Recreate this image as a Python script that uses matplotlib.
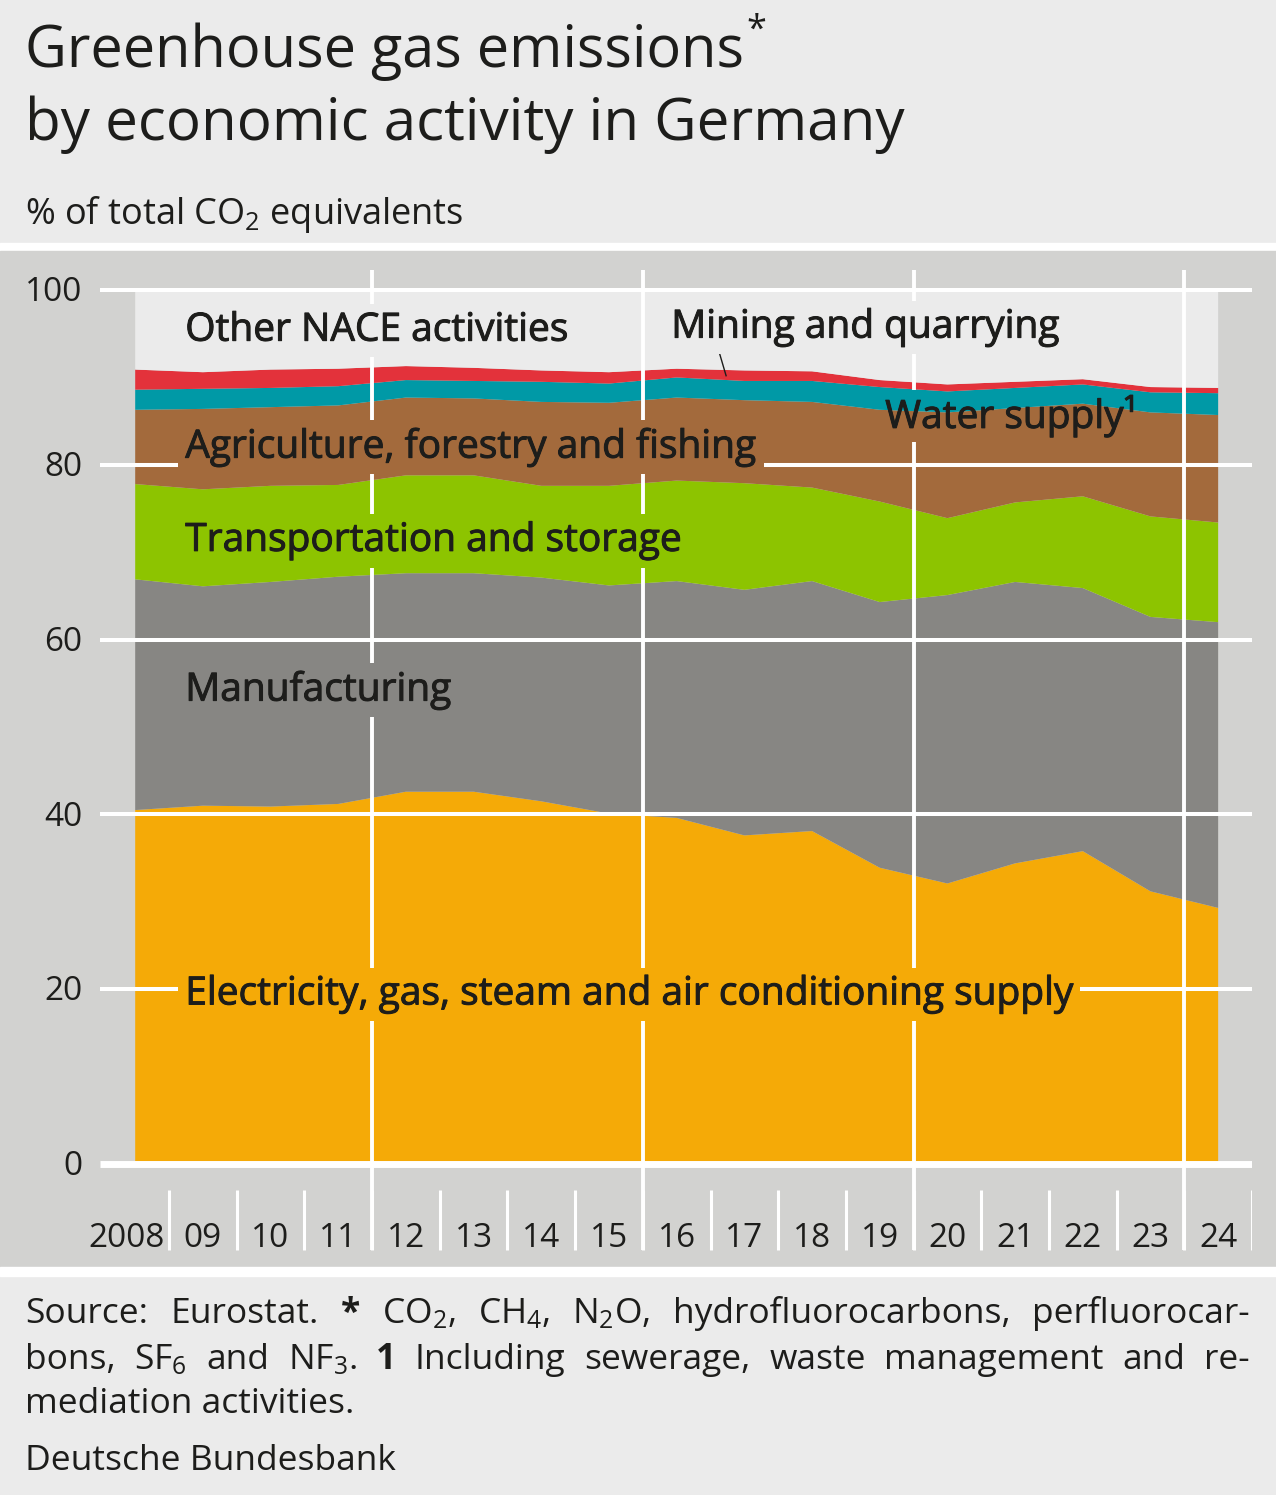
import matplotlib
matplotlib.use("Agg")
import matplotlib.pyplot as plt
import matplotlib.patheffects as pe
from matplotlib.patches import Rectangle

plt.rcParams['font.family'] = ['Open Sans', 'DejaVu Sans']
plt.rcParams['mathtext.fontset'] = 'custom'
plt.rcParams['mathtext.rm'] = 'Open Sans'
plt.rcParams['mathtext.it'] = 'Open Sans:italic'
plt.rcParams['mathtext.bf'] = 'Open Sans:bold'

# shares in % of total CO2 equivalents
years = list(range(2008, 2025))
year_labels = ['2008'] + ['%02d' % (y % 100) for y in years[1:]]
electricity = [40.5, 41.0, 40.9, 41.2, 42.6, 42.6, 41.5, 40.1, 39.6, 37.6, 38.1, 33.9, 32.1, 34.4, 35.8, 31.2, 29.3]
manufacturing = [26.4, 25.1, 25.7, 26.0, 25.0, 25.0, 25.6, 26.1, 27.1, 28.1, 28.6, 30.4, 33.0, 32.2, 30.1, 31.4, 32.7]
transport = [10.9, 11.1, 11.0, 10.5, 11.2, 11.2, 10.5, 11.4, 11.5, 12.2, 10.7, 11.5, 8.8, 9.1, 10.5, 11.5, 11.4]
agriculture = [8.5, 9.2, 9.0, 9.1, 8.9, 8.8, 9.6, 9.5, 9.5, 9.5, 9.8, 10.5, 12.1, 10.8, 10.6, 11.9, 12.3]
water = [2.3, 2.3, 2.2, 2.2, 2.0, 2.0, 2.3, 2.2, 2.3, 2.2, 2.4, 2.6, 2.4, 2.3, 2.2, 2.3, 2.5]
mining = [2.3, 1.9, 2.1, 2.0, 1.6, 1.5, 1.3, 1.3, 1.0, 1.2, 1.1, 0.8, 0.8, 0.7, 0.6, 0.6, 0.6]
other = [100 - sum(v) for v in zip(electricity, manufacturing, transport, agriculture, water, mining)]
yticks = [0, 20, 40, 60, 80, 100]

c_orange = '#f5aa07'
c_gray = '#878683'
c_green = '#8dc400'
c_brown = '#a36a3c'
c_teal = '#0099a6'
c_red = '#e3323b'
c_light = '#ebebeb'
c_bg = '#d2d2d0'
c_text = '#1d1d1b'

W, H = 1276, 1495
fig = plt.figure(figsize=(W / 100, H / 100), dpi=100, facecolor=c_light)
renderer = fig.canvas.get_renderer()

def fy(px):
    return 1 - px / H

# background bands
fig.patches.append(Rectangle((0, fy(251)), 1, (251 - 243) / H, transform=fig.transFigure, color='white', zorder=-1))
fig.patches.append(Rectangle((0, fy(1267)), 1, (1267 - 251) / H, transform=fig.transFigure, color=c_bg, zorder=-1))
fig.patches.append(Rectangle((0, fy(1276)), 1, (1276 - 1267) / H, transform=fig.transFigure, color='white', zorder=-1))

ax = fig.add_axes([100 / W, fy(1251.4), 1152 / W, (1251.4 - 268.2) / H])
ax.set_zorder(2)
ax.set_facecolor('none')
for s in ax.spines.values():
    s.set_visible(False)
ax.set_xticks([])
ax.set_yticks([])
ax.set_xlim(2007.48, 2024.5)
ax.set_ylim(-10, 102.5)

colors = [c_orange, c_gray, c_green, c_brown, c_teal, c_red, c_light]
ax.stackplot(years, electricity, manufacturing, transport, agriculture, water, mining, other,
             colors=colors, linewidth=0, zorder=1)

# grid
ax.hlines([20, 40, 60, 80, 100], 2007.48, 2024.5, color='white', lw=2.9, zorder=3)
ax.hlines(0, 2007.48, 2024.5, color='white', lw=5, zorder=3)
ax.vlines([2011.5, 2015.5, 2023.5], -9.84, 102.3, color='white', lw=2.8, zorder=3)
ax.vlines(2019.5, -9.84, 82.6, color='white', lw=2.8, zorder=3)
ax.vlines(2019.5, 88.6, 102.3, color='white', lw=2.8, zorder=3)
ax.vlines([y + 0.5 for y in years], -9.84, -2.97, color='white', lw=2.2, zorder=3)

for v in yticks:
    ax.text(2007.22, v - 0.3, str(v), ha='right', va='center', fontsize=24, color=c_text, clip_on=False)
for y, lab in zip(years, year_labels):
    if y == 2008:
        ax.text(2008.44, -8.5, lab, ha='right', va='center', fontsize=24, color=c_text)
    else:
        ax.text(y, -8.5, lab, ha='center', va='center', fontsize=24, color=c_text)

heavier = [pe.withStroke(linewidth=0.7, foreground=c_text)]

def label(x, y, s, fc):
    box = None if fc is None else dict(boxstyle='square,pad=0.2', fc=fc, ec='none')
    ax.text(x, y - 0.3, s, ha='left', va='center', fontsize=28, color=c_text,
            bbox=box, zorder=5, path_effects=heavier)

label(2008.74, 95.65, 'Other NACE activities', c_light)
label(2015.92, 96.0, 'Mining and quarrying', c_light)
label(2019.08, 85.9, 'Water supply\u00b9', None)
label(2008.74, 82.3, 'Agriculture, forestry and fishing', c_brown)
label(2008.74, 71.6, 'Transportation and storage', c_green)
label(2008.74, 54.5, 'Manufacturing', c_gray)
label(2008.74, 19.7, 'Electricity, gas, steam and air conditioning supply', c_orange)
ax.plot([2016.62, 2016.73], [93.1, 90.2], color=c_text, lw=1, zorder=4)

# titles
t1 = fig.text(25 / W, fy(67), 'Greenhouse gas emissions', fontsize=41.5, color=c_text, va='baseline')
x_star = t1.get_window_extent(renderer).x1 + 2
fig.text(x_star / W, fy(40), '*', fontsize=26, color=c_text, va='baseline')
fig.text(25 / W, fy(140), 'by economic activity in Germany', fontsize=42, color=c_text, va='baseline')
fig.text(25 / W, fy(224), '% of total CO$_\\mathrm{2}$ equivalents', fontsize=26, color=c_text, va='baseline')

# footnote, justified lines
FN = 25.5

def justify(words, y_px, x0=25, x1=1250):
    texts = [fig.text(0, fy(y_px), w, fontsize=FN, color=c_text, va='baseline', fontweight=wt)
             for w, wt in words]
    widths = [t.get_window_extent(renderer).width for t in texts]
    gap = (x1 - x0 - sum(widths)) / (len(texts) - 1)
    x = x0
    for t, w in zip(texts, widths):
        t.set_x(x / W)
        x += w + gap

n = 'normal'
b = 'bold'
justify([('Source:', n), ('Eurostat.', n), ('*', b), ('CO$_\\mathrm{2}$,', n), ('CH$_\\mathrm{4}$,', n),
         ('N$_\\mathrm{2}$O,', n), ('hydrofluorocarbons,', n), ('perfluorocar-', n)], 1323)
justify([('bons,', n), ('SF$_\\mathrm{6}$', n), ('and', n), ('NF$_\\mathrm{3}$.', n), ('1', b),
         ('Including', n), ('sewerage,', n), ('waste', n), ('management', n), ('and', n), ('re-', n)], 1369)
fig.text(25 / W, fy(1413), 'mediation activities.', fontsize=FN, color=c_text, va='baseline')
fig.text(25 / W, fy(1470), 'Deutsche Bundesbank', fontsize=FN, color=c_text, va='baseline')

fig.savefig('out.png', dpi=100, facecolor=c_light)
